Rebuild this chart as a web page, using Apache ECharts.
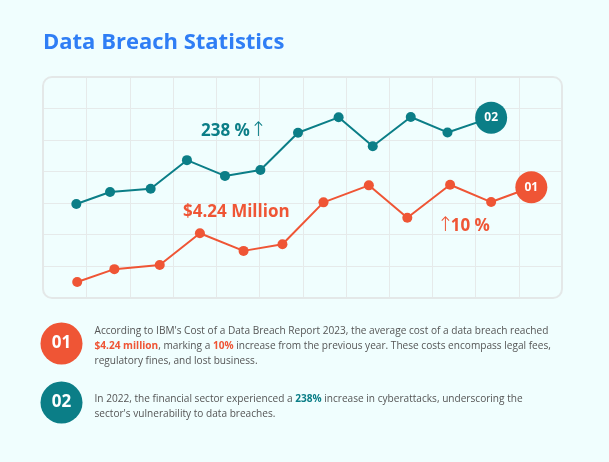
<!DOCTYPE html>
<html>
<head>
<meta charset="utf-8">
<script src="https://cdn.jsdelivr.net/npm/echarts@6/dist/echarts.min.js"></script>
<style>
html,body{margin:0;padding:0;background:#f0fefe;}
#c{width:609px;height:462px;}
</style>
</head>
<body>
<div id="c"></div>
<script>
// Data (x in grid-column units, y in grid-row units)
const cyberX = [0.76, 1.54, 2.48, 3.32, 4.20, 5.02, 5.89, 6.83, 7.62, 8.50, 9.35, 10.36];
const cyberY = [2.97, 3.35, 3.45, 4.36, 3.86, 4.05, 5.23, 5.72, 4.80, 5.73, 5.24, 5.71];
const costX  = [0.78, 1.64, 2.69, 3.62, 4.63, 5.53, 6.48, 7.53, 8.42, 9.41, 10.36, 11.29];
const costY  = [0.49, 0.90, 1.03, 2.04, 1.48, 1.69, 3.02, 3.56, 2.53, 3.58, 3.03, 3.50];
const endLabels = ['02', '01'];
const title = 'Data Breach Statistics';

const TEAL = '#0b7e87', ORANGE = '#ef5535', BLUE = '#2f7ef5', TXT = '#555555';
const FONT = '"Open Sans", sans-serif';

function build(xs, ys, endLabel) {
  return xs.map((x, i) => {
    const last = i === xs.length - 1;
    const item = { value: [x, ys[i]] };
    if (last) {
      item.symbolSize = 32;
      item.label = { show: true, position: 'inside', formatter: endLabel, color: '#fff',
        fontSize: 12, fontWeight: 700, fontFamily: FONT };
    }
    return item;
  });
}

const chart = echarts.init(document.getElementById('c'), null, { renderer: 'canvas' });
chart.setOption({
  backgroundColor: '#f0fefe',
  animation: false,
  grid: { left: 43.5, top: 77, width: 518.5, height: 220.5 },
  xAxis: { type: 'value', min: 0, max: 12, interval: 1,
    axisLine: { show: false }, axisTick: { show: false }, axisLabel: { show: false },
    splitLine: { show: true, showMinLine: false, showMaxLine: false, lineStyle: { color: '#e6eaea', width: 1 } } },
  yAxis: { type: 'value', min: 0, max: 7, interval: 1,
    axisLine: { show: false }, axisTick: { show: false }, axisLabel: { show: false },
    splitLine: { show: true, showMinLine: false, showMaxLine: false, lineStyle: { color: '#e6eaea', width: 1 } } },
  series: [
    { type: 'line', data: build(cyberX, cyberY, endLabels[0]), symbol: 'circle', symbolSize: 10,
      itemStyle: { color: TEAL }, lineStyle: { color: TEAL, width: 2 }, z: 3 },
    { type: 'line', data: build(costX, costY, endLabels[1]), symbol: 'circle', symbolSize: 10,
      itemStyle: { color: ORANGE }, lineStyle: { color: ORANGE, width: 2 }, z: 3 }
  ],
  graphic: [
    { type: 'text', left: 43, top: 32, z: 5, style: { text: title, fill: BLUE, font: '700 22px ' + FONT } },
    { type: 'rect', shape: { x: 43, y: 77, width: 519, height: 221, r: 9 }, z: 10, silent: true,
      style: { fill: 'none', stroke: '#e4e8e8', lineWidth: 2 } },
    { type: 'text', x: 201, y: 131, z: 5, style: {
        text: '{b|238 %}{a|↑}', verticalAlign: 'middle',
        rich: { b: { fill: TEAL, fontSize: 17, fontWeight: 700, fontFamily: FONT },
                a: { fill: TEAL, fontSize: 20, fontWeight: 300, fontFamily: '"DejaVu Sans", sans-serif' } } } },
    { type: 'text', x: 183, y: 212, z: 5, style: {
        text: '$4.24 Million', verticalAlign: 'middle', fill: ORANGE, font: '700 17px ' + FONT } },
    { type: 'text', x: 437, y: 226, z: 5, style: {
        text: '{a|↑}{b|10 %}', verticalAlign: 'middle',
        rich: { b: { fill: ORANGE, fontSize: 17, fontWeight: 700, fontFamily: FONT, padding: [0, 0, 0, -3] },
                a: { fill: ORANGE, fontSize: 20, fontWeight: 300, fontFamily: '"DejaVu Sans", sans-serif' } } } },
    { type: 'circle', shape: { cx: 61.5, cy: 343.5, r: 21 }, z: 5, style: { fill: ORANGE } },
    { type: 'text', x: 61.5, y: 343.5, z: 6, style: { text: '01', fill: '#fff', font: '700 17px ' + FONT, align: 'center', verticalAlign: 'middle' } },
    { type: 'circle', shape: { cx: 61.5, cy: 402.5, r: 21 }, z: 5, style: { fill: TEAL } },
    { type: 'text', x: 61.5, y: 402.5, z: 6, style: { text: '02', fill: '#fff', font: '700 17px ' + FONT, align: 'center', verticalAlign: 'middle' } },
    { type: 'text', x: 94.5, y: 324, z: 5, style: {
        text: "{n|According to IBM's Cost of a Data Breach Report 2023, the average cost of a data breach reached}\n" +
              "{o|$4.24 million}{n|, marking a }{o|10%}{n| increase from the previous year. These costs encompass legal fees,}\n" +
              "{n|regulatory fines, and lost business.}",
        rich: { n: { fill: TXT, fontSize: 10.1, fontFamily: FONT, lineHeight: 15 },
                o: { fill: ORANGE, fontSize: 10.1, fontWeight: 700, fontFamily: FONT, lineHeight: 15 } } } },
    { type: 'text', x: 94.5, y: 392, z: 5, style: {
        text: "{n|In 2022, the financial sector experienced a }{t|238%}{n| increase in cyberattacks, underscoring the}\n" +
              "{n|sector's vulnerability to data breaches.}",
        rich: { n: { fill: TXT, fontSize: 10.1, fontFamily: FONT, lineHeight: 15 },
                t: { fill: TEAL, fontSize: 10.1, fontWeight: 700, fontFamily: FONT, lineHeight: 15 } } } }
  ]
});
</script>
</body>
</html>
